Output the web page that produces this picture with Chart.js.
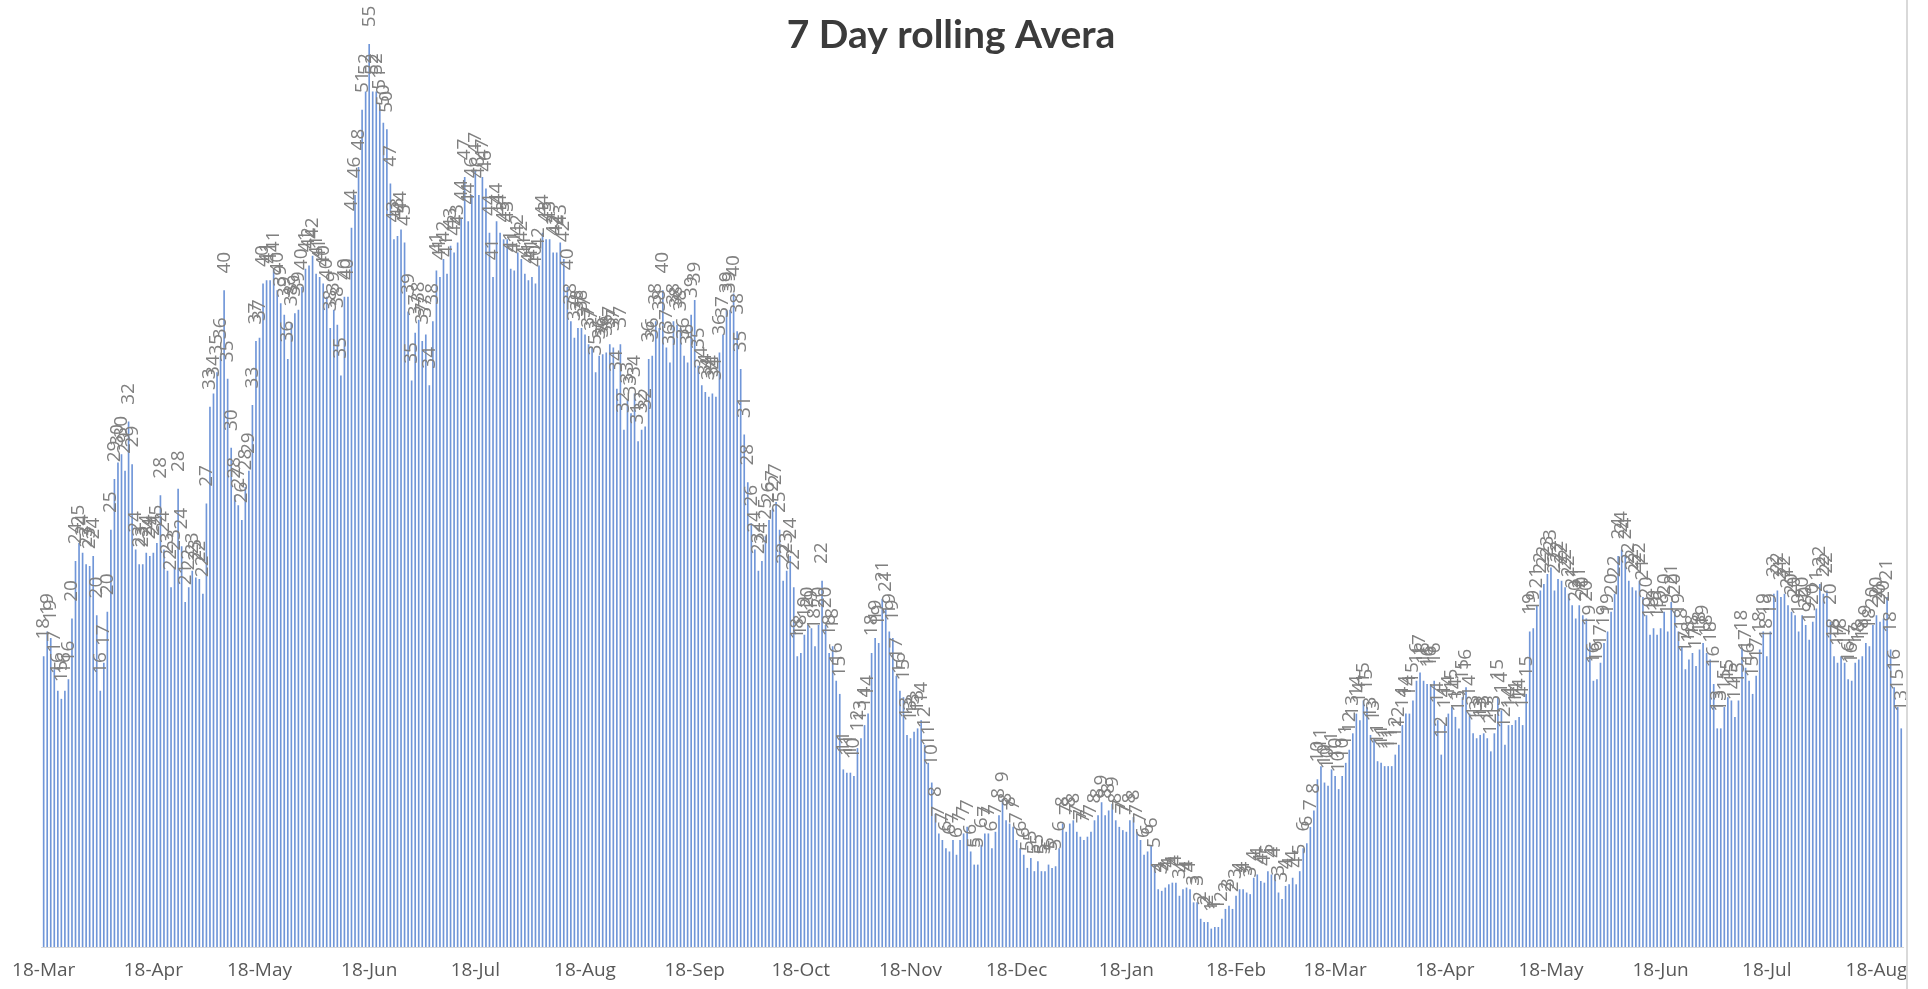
<!DOCTYPE html>
<html>
<head>
<meta charset="utf-8">
<title>7 Day rolling Avera</title>
<script src="https://cdn.jsdelivr.net/npm/chart.js@4"></script>
<style>
  html, body { margin: 0; padding: 0; background: #fff; }
  #wrap { width: 1928px; height: 989px; }
</style>
</head>
<body>
<div id="wrap"><canvas id="avg" width="1928" height="989"></canvas></div>
<script>
// daily 7-day rolling average, 18-Mar-2020 onwards, one array per month (18th to 17th)
const mar2020 = [17.7, 19.2, 18.8, 16.9, 15.6, 15.1, 15.6, 16.3, 20, 23.5, 24.6, 24, 23.3, 23.2, 23.8, 20.2, 15.6, 17.3, 20.4, 25.4, 28.5, 29.5, 30, 29, 32, 29.4, 24.2, 23.3, 23.3, 24, 23.8];
const apr2020 = [24, 24.6, 27.5, 24.2, 22.9, 21.9, 23.1, 27.9, 24.4, 21, 21.9, 22.9, 22.5, 22.4, 21.5, 27, 32.9, 33.7, 35, 36, 40, 34.6, 30.4, 27.5, 26.9, 26, 28, 29, 33, 36.9];
const may2020 = [37.1, 40.4, 40.6, 40.6, 41.3, 40, 39.2, 38.5, 35.8, 38, 38.6, 38.8, 40.2, 41.3, 41.5, 42.1, 41, 40.8, 40.4, 39.6, 37.7, 38.8, 37.9, 34.8, 39.6, 39.6, 43.8, 45.8, 47.5, 51, 52.1];
const jun2020 = [55, 52.1, 52.1, 51.2, 50.2, 49.8, 46.5, 43.1, 43.3, 43.7, 42.9, 38.7, 34.5, 37.4, 38.2, 36.9, 37.3, 34.2, 38.1, 41.2, 40.8, 41.9, 41, 42.7, 42.3, 42.9, 44.4, 46.9, 44.2, 45.8];
const jul2020 = [47.3, 45.8, 46.9, 46.2, 43.5, 40.8, 44.2, 43.5, 43.1, 43.1, 41.3, 41.2, 42.3, 41.9, 41, 40.6, 40.8, 40.4, 41.5, 43.5, 43.1, 43.1, 42.3, 42.3, 42.9, 41.9, 40.2, 38.1, 37.1, 37.7, 37.7];
const aug2020 = [37.3, 36.7, 36.5, 35, 36, 36.1, 36.2, 36.7, 36.5, 34, 36.7, 31.5, 33.3, 32.5, 33.7, 30.8, 31.5, 31.7, 35.8, 36, 38.1, 37.7, 40, 36.5, 35.6, 38.1, 37.9, 37.7, 36, 35.6, 38.5];
const sep2020 = [39.4, 35.4, 34.2, 33.8, 33.5, 33.7, 33.5, 36.2, 37.3, 38.8, 38.8, 39.8, 37.5, 35.2, 31.2, 28.3, 25.8, 24.2, 22.9, 23.5, 25, 26, 26.7, 27.1, 25.4, 22.3, 22.9, 23.8, 21.9, 17.7];
const oct2020 = [17.9, 19, 19.6, 19.4, 18.3, 19.6, 22.3, 19.6, 17.9, 18.3, 16.2, 15.4, 10.8, 10.6, 10.6, 10.4, 12.1, 12.7, 13.5, 14.2, 17.9, 18.8, 18.5, 21.2, 20.6, 19.2, 18.8, 16.5, 15.6, 15.2, 12.9];
const nov2020 = [12.7, 13.1, 13.3, 13.8, 12.3, 11.2, 10, 8.1, 6.9, 6.5, 6, 5.8, 6.5, 5.6, 6.5, 6.9, 7.3, 5.8, 5, 5, 6.2, 6.9, 6.9, 6, 7, 8, 9, 7.7, 7.5, 7.3];
const dec2020 = [6.5, 6, 5.6, 4.8, 5.4, 4.6, 5.2, 4.6, 4.6, 5, 4.8, 4.9, 6, 7.5, 7, 7.5, 7.7, 7, 6.7, 6.5, 6.7, 7, 7.7, 8, 8.8, 8, 8.3, 8.7, 7.7, 7.3, 7.1];
const jan2021 = [7, 7.7, 7.9, 7, 6.5, 5.6, 5.8, 6.2, 5, 3.5, 3.4, 3.6, 3.8, 3.9, 3.9, 3.1, 3.5, 3.6, 3.5, 2.7, 2.7, 1.7, 1.5, 1.5, 1.1, 1.2, 1.2, 1.7, 2.3, 2.5, 2.3];
const feb2021 = [3.1, 3.5, 3.5, 3.3, 3.2, 4.2, 4.4, 4, 3.9, 4.6, 4.4, 4.4, 3.3, 2.9, 3.7, 3.8, 4.2, 3.8, 4.6, 6, 6.3, 7.3, 8.3, 10.2, 11, 10, 9.8, 10.8];
const mar2021 = [10.4, 9.6, 10.4, 11.2, 12, 13, 14.2, 13.8, 15, 14.6, 12.9, 12.7, 11.3, 11.2, 11, 11, 11, 11.7, 12.3, 13.5, 14.2, 14.2, 15, 16.2, 16.7, 16.2, 16, 16, 16.2, 13.8, 11.7];
const apr2021 = [13.5, 14.2, 14.6, 14, 13.3, 15.2, 15.8, 14.2, 13, 12.7, 12.9, 13, 12.7, 11.9, 13, 15.2, 14.4, 12.3, 13.5, 13.5, 13.8, 14, 13.5, 15.4, 19.2, 19.4, 20.8, 21.7, 22.1, 22.7];
const may2021 = [23.1, 21.7, 22.4, 22.3, 21.9, 21.5, 20.8, 20, 20.8, 20.2, 20, 18.5, 16.2, 16.3, 17.3, 18.5, 19.2, 20.4, 21.5, 23.8, 24.2, 23.8, 22.3, 21.9, 21.7, 22.3, 21.3, 20.2, 19, 19.4, 19];
const jun2021 = [19.4, 20.4, 19.2, 21, 20.4, 19.2, 18.3, 16.9, 17.5, 17.9, 17.1, 18.1, 18.5, 17.9, 17.5, 16, 13.3, 13.3, 14.6, 15.2, 15, 14, 15, 18.2, 17, 16.2, 15.4, 16.5, 18.1, 19.2];
const jul2021 = [17.7, 19.2, 21.5, 21.7, 21.3, 21.5, 20.8, 20.4, 20.2, 19.2, 20.2, 19.6, 18.7, 19.8, 20.6, 22.1, 21.5, 21.7, 19.8, 17.7, 17.3, 17.7, 17.3, 16.3, 16.2, 17.3, 17.5, 17.7, 18.5, 18.3, 19.6];
const aug2021 = [20.2, 19.8, 20, 21.3, 18.1, 15.8, 14.6, 13.3];

const avgValues = [].concat(mar2020, apr2020, may2020, jun2020, jul2020, aug2020, sep2020,
  oct2020, nov2020, dec2020, jan2021, feb2021, mar2021, apr2021, may2021, jun2021, jul2021, aug2021);

const monthNames = ['Jan', 'Feb', 'Mar', 'Apr', 'May', 'Jun', 'Jul', 'Aug', 'Sep', 'Oct', 'Nov', 'Dec'];
const firstDay = Date.UTC(2020, 2, 18);
const tickDay = 18; // only the 18th of each month gets an axis label

const dayLabels = avgValues.map((v, i) => {
  const d = new Date(firstDay + i * 86400000);
  return d.getUTCDate() + '-' + monthNames[d.getUTCMonth()];
});

const chartTitle = '7 Day rolling Avera';

// value labels, rotated, above each bar
const barLabels = {
  id: 'barLabels',
  afterDatasetsDraw(chart) {
    const ctx = chart.ctx;
    const meta = chart.getDatasetMeta(0);
    const vals = chart.data.datasets[0].data;
    ctx.save();
    ctx.fillStyle = '#808080';
    ctx.font = '19px "Open Sans"';
    ctx.textAlign = 'left';
    ctx.textBaseline = 'middle';
    meta.data.forEach((bar, i) => {
      ctx.save();
      ctx.translate(bar.x, bar.y - 17);
      ctx.rotate(-Math.PI / 2);
      ctx.fillText(String(Math.round(vals[i])), 0, 0);
      ctx.restore();
    });
    ctx.restore();
  }
};

// title + the cut off chart frame on the right
const frame = {
  id: 'frame',
  afterDraw(chart) {
    const ctx = chart.ctx;
    ctx.save();
    ctx.fillStyle = '#3b3b3b';
    ctx.font = 'bold 39px Lato';
    ctx.textAlign = 'center';
    ctx.textBaseline = 'alphabetic';
    ctx.fillText(chartTitle, 951, 48);
    ctx.strokeStyle = '#d9d9d9';
    ctx.lineWidth = 2;
    ctx.beginPath();
    ctx.moveTo(1907, 0);
    ctx.lineTo(1907, 989);
    ctx.stroke();
    ctx.restore();
  }
};

new Chart(document.getElementById('avg'), {
  type: 'bar',
  data: {
    labels: dayLabels,
    datasets: [{
      data: avgValues,
      backgroundColor: '#7096d8',
      barThickness: 1
    }]
  },
  options: {
    responsive: false,
    animation: false,
    layout: { padding: { left: 41, right: 25, top: 0, bottom: 0 } },
    plugins: {
      legend: { display: false },
      tooltip: { enabled: false }
    },
    scales: {
      x: {
        grid: { display: false, drawTicks: false },
        border: { display: true, color: '#d9d9d9', width: 1 },
        ticks: {
          autoSkip: false,
          maxRotation: 0,
          minRotation: 0,
          padding: 12,
          color: '#595959',
          font: { family: 'Open Sans', size: 19 },
          callback: (v, i) => dayLabels[i].startsWith(tickDay + '-') ? dayLabels[i] : ''
        },
        afterFit: (scale) => { scale.height = 42; }
      },
      y: { display: false, min: 0, max: 57.7 }
    }
  },
  plugins: [barLabels, frame]
});
</script>
</body>
</html>
